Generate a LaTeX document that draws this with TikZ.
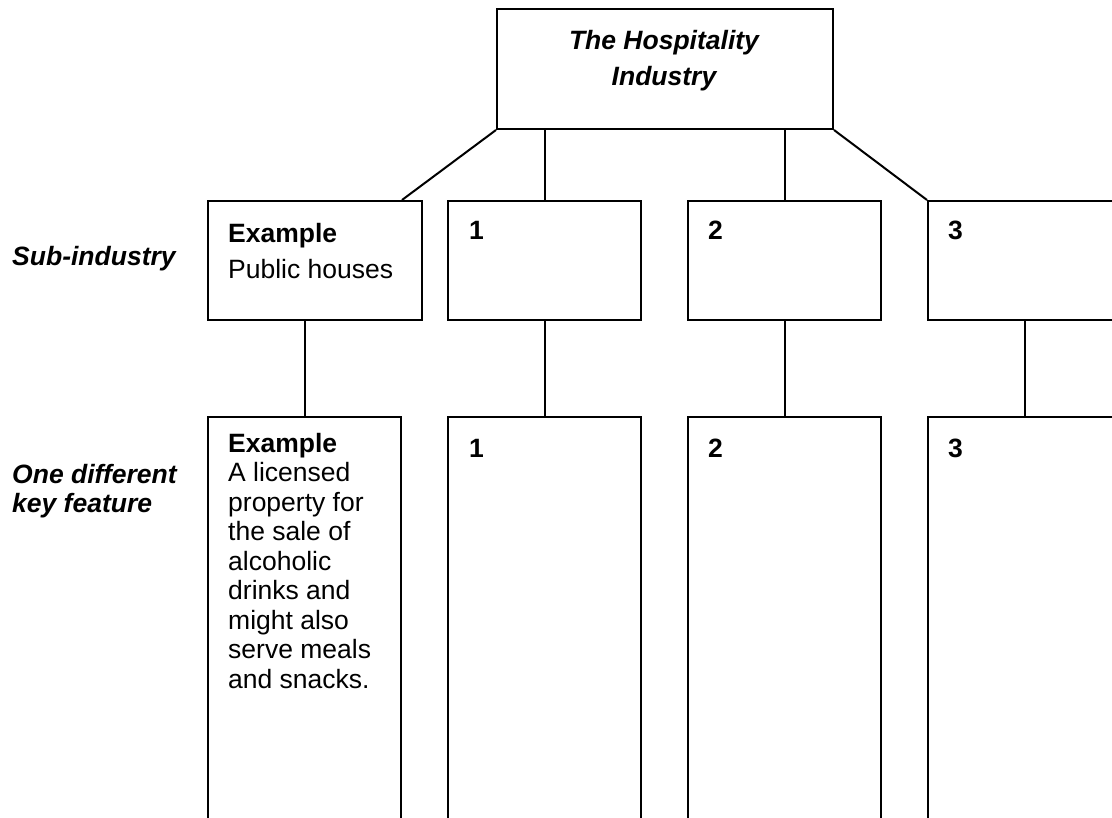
\documentclass[tikz,border=0pt]{standalone}
\usepackage{fontspec}
\setmainfont{Liberation Sans}
\begin{document}
\begin{tikzpicture}[x=1pt,y=-1pt,
  boxst/.style={draw=black, line width=2pt, anchor=north west, inner sep=0pt, fill=none},
  txt/.style={inner sep=0pt, font=\fontsize{26.5pt}{29.5pt}\selectfont},
  wide/.style={inner sep=0pt, font=\fontsize{26.5pt}{36pt}\selectfont},
  num/.style={inner sep=0pt, anchor=base west, font=\fontsize{26.5pt}{29.5pt}\selectfont\bfseries},
  conn/.style={draw=black, line width=2pt}]
\useasboundingbox (0,0) rectangle (1112,818);
\clip (0,0) rectangle (1112,818);
% boxes
\node[boxst, minimum width=336pt, minimum height=120pt] (top) at (496,8) {};
\node[boxst, minimum width=214pt, minimum height=119pt] (se) at (207,200) {};
\node[boxst, minimum width=193pt, minimum height=119pt] (a1) at (447,200) {};
\node[boxst, minimum width=193pt, minimum height=119pt] (b1) at (687,200) {};
\node[boxst, minimum width=194pt, minimum height=119pt] (c1) at (927,200) {};
\node[boxst, minimum width=193pt, minimum height=430pt] (se2) at (207,416) {};
\node[boxst, minimum width=193pt, minimum height=430pt] (a2) at (447,416) {};
\node[boxst, minimum width=193pt, minimum height=430pt] (b2) at (687,416) {};
\node[boxst, minimum width=194pt, minimum height=430pt] (c2) at (927,416) {};
% texts
\node[wide, anchor=north, align=center, font=\fontsize{26.5pt}{36pt}\selectfont\bfseries\itshape] (title) at (664,30) {The Hospitality\\Industry};
\node[wide, anchor=north west, align=left] (set) at (228,223) {\textbf{Example}\\Public houses};
\node[num] (n1) at (469,240) {1};
\node[num] (n2) at (708,240) {2};
\node[num] (n3) at (948,240) {3};
\node[txt, anchor=north west, align=left] (se2t) at (228,433) {\textbf{Example}\\A licensed\\property for\\the sale of\\alcoholic\\drinks and\\might also\\serve meals\\and snacks.};
\node[num] (m1) at (469,457) {1};
\node[num] (m2) at (708,457) {2};
\node[num] (m3) at (948,457) {3};
\node[txt, anchor=base west, font=\fontsize{26.5pt}{29.5pt}\selectfont\bfseries\itshape] (lab1) at (12,266) {Sub-industry};
\node[txt, anchor=north west, align=left, font=\fontsize{26.5pt}{29pt}\selectfont\bfseries\itshape] (lab2) at (12,464) {One different\\key feature};
% connectors
\draw[conn] (top.south west) -- ([xshift=-21pt]se.north east);
\draw[conn] (top.south -| a1.north) -- (a1.north);
\draw[conn] (top.south -| b1.north) -- (b1.north);
\draw[conn] (top.south east) -- (c1.north west);
\draw[conn] (se2.north |- se.south) -- (se2.north);
\draw[conn] (a1.south) -- (a2.north);
\draw[conn] (b1.south) -- (b2.north);
\draw[conn] (c1.south) -- (c2.north);
\end{tikzpicture}
\end{document}
